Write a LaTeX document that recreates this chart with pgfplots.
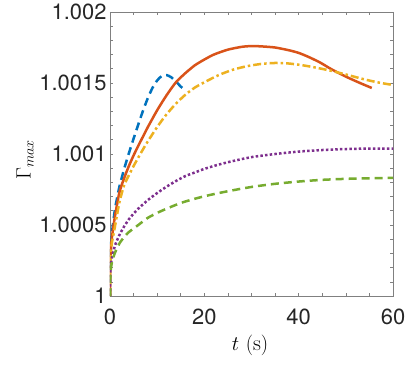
\documentclass[border=0pt]{standalone}
\usepackage{fontspec}
\usepackage{pgfplots}
\pgfplotsset{compat=1.18}
\newfontfamily\hel{TeX Gyre Heros}
\definecolor{c1}{rgb}{0,0.447,0.741}
\definecolor{c2}{rgb}{0.850,0.325,0.098}
\definecolor{c3}{rgb}{0.929,0.694,0.125}
\definecolor{c4}{rgb}{0.494,0.184,0.556}
\definecolor{c5}{rgb}{0.466,0.674,0.188}
% y values stored as (Gamma_max - 1) x 1000
\begin{document}
\begin{tikzpicture}
\path[use as bounding box] (-110bp,-74bp) rectangle (297bp,296bp);
\begin{axis}[
  at={(0,0)}, anchor=south west,
  scale only axis, width=283bp, height=284bp,
  xmin=0, xmax=60, ymin=0, ymax=2,
  xtick={0,20,40,60}, xticklabels={0,20,40,60},
  minor x tick num=3,
  ytick={0,0.5,1,1.5,2}, yticklabels={1,1.0005,1.001,1.0015,1.002},
  minor y tick num=4,
  tick align=inside, tick pos=both,
  major tick length=3.5bp, minor tick length=3.5bp,
  every tick/.style={color=black!50, line width=0.6bp},
  axis line style={black!50, line width=0.7bp},
  ticklabel style={font=\hel\fontsize{22}{26}\selectfont, text=black!85},
  xticklabel style={yshift=-9bp},
  xlabel={$t\ (\mathrm{s})$}, ylabel={$\Gamma_{max}$},
  label style={font=\fontsize{22}{26}\selectfont},
  xlabel style={at={(axis description cs:0.495,-0.172)}, anchor=center},
  ylabel style={at={(axis description cs:-0.30,0.48)}, anchor=center},
  every axis plot/.append style={line width=2.5bp, smooth, tension=0.4},
]
\addplot[c1, dash pattern=on 8bp off 5bp] coordinates {
(0,0) (0.05,0.2) (0.15,0.32) (0.4,0.44) (1,0.6) (1.5,0.69) (2,0.77) (3,0.895) (4,1.005) (5,1.108) (6,1.208) (7,1.305) (8,1.392) (9,1.465) (10,1.518) (11,1.55) (12,1.556) (13,1.54) (14,1.51) (15,1.475) (15.9,1.45)
};
\addplot[c2, solid] coordinates {
(0,0) (0.05,0.2) (0.3,0.38) (1,0.55) (2,0.73) (3,0.83) (4,0.915) (5,0.99) (6,1.058) (7,1.123) (8,1.188) (10,1.308) (12,1.414) (14,1.506) (16,1.57) (18,1.625) (20,1.665) (22,1.70) (25,1.735) (28,1.755) (30,1.76) (32,1.758) (35,1.75) (38,1.73) (40,1.712) (42,1.685) (44.5,1.645) (47,1.596) (50,1.545) (53,1.50) (55.5,1.465)
};
\addplot[c3, dash pattern=on 8bp off 3bp on 2.5bp off 3bp] coordinates {
(0,0) (0.05,0.18) (0.3,0.35) (1,0.48) (2,0.66) (3,0.78) (4,0.85) (5,0.915) (6,0.975) (7,1.033) (8,1.088) (10,1.19) (12,1.28) (14,1.355) (16,1.418) (18,1.468) (20,1.505) (23,1.555) (26,1.593) (29,1.618) (32,1.634) (35,1.641) (38,1.637) (41,1.624) (44,1.606) (47,1.585) (50,1.56) (54,1.525) (57,1.503) (60,1.486)
};
\addplot[c4, dash pattern=on 2.5bp off 2.2bp] coordinates {
(0,0) (0.05,0.15) (0.3,0.25) (1,0.35) (2,0.43) (3,0.49) (4,0.54) (5,0.58) (6,0.615) (8,0.675) (10,0.725) (12,0.77) (14,0.81) (16,0.845) (18,0.87) (20,0.895) (23,0.925) (26,0.95) (30,0.978) (35,1.0) (40,1.017) (45,1.028) (50,1.035) (55,1.038) (60,1.038)
};
\addplot[c5, dash pattern=on 8bp off 5bp] coordinates {
(0,0) (0.05,0.12) (0.3,0.22) (1,0.3) (2,0.37) (3,0.415) (4,0.45) (5,0.475) (6,0.5) (8,0.55) (10,0.585) (12,0.615) (15,0.655) (18,0.685) (21,0.71) (25,0.738) (30,0.768) (35,0.79) (40,0.806) (45,0.818) (50,0.825) (55,0.829) (60,0.832)
};
\end{axis}
\end{tikzpicture}
\end{document}
